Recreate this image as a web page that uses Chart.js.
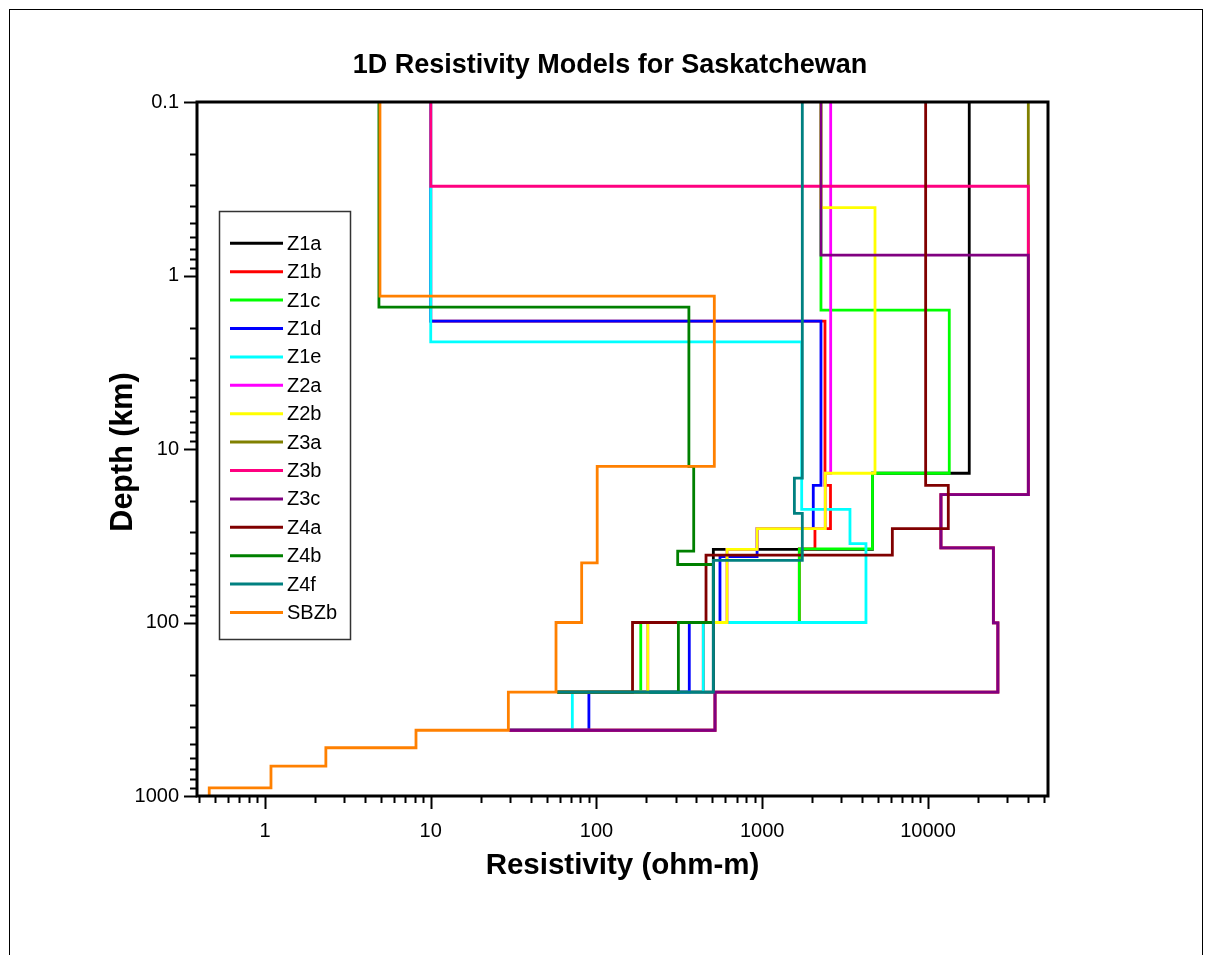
<!DOCTYPE html>
<html>
<head>
<meta charset="utf-8">
<script src="https://cdn.jsdelivr.net/npm/chart.js@4.4.1/dist/chart.umd.min.js"></script>
<style>
  html, body { margin: 0; padding: 0; background: #fff; }
  #grafico { display: block; }
</style>
</head>
<body>
<canvas id="grafico" width="1216" height="955"></canvas>
<script>
// profundidad inicial de todos los modelos (km)
const profTope = 0.1;

// modelos: resistividad de cada capa (ohm-m) y profundidad de la base de cada capa (km)
const z1aRho = [17740, 4620, 507, 58];
const z1aProf = [13.8, 37.9, 252];
const z1bRho = [10, 2391, 2581, 2080, 1674, 441, 58];
const z1bProf = [1.83, 16.2, 28.8, 37.6, 100, 252];
const z1cRho = [2261, 13440, 4624, 1674, 185, 58];
const z1cProf = [1.585, 13.8, 37.6, 100, 252];
const z1dRho = [10, 2261, 2032, 931, 556, 363, 90, 29.8];
const z1dProf = [1.83, 16.2, 28.8, 41.7, 100, 252, 418];
const z1eRho = [10, 1730, 3383, 4225, 441, 71.5, 29.8];
const z1eProf = [2.41, 22.3, 35.1, 100, 252, 418];
const z2aRho = [2588, 2400, 931, 613, 204, 58];
const z2aProf = [13.8, 28.8, 37.9, 100, 252];
const z2bRho = [2261, 4790, 2400, 931, 613, 204, 58];
const z2bProf = [0.406, 13.8, 28.8, 37.9, 100, 252];
const z3aRho = [40300, 11970, 24800, 26400, 519, 29.8];
const z3aProf = [18.3, 37.1, 100.4, 252, 418];
const z3bRho = [10, 40300, 11970, 24800, 26400, 519, 29.8];
const z3bProf = [0.306, 18.3, 37.1, 100.4, 252, 418];
const z3cRho = [2261, 40300, 11970, 24800, 26400, 519, 29.8];
const z3cProf = [0.764, 18.3, 37.1, 100.4, 252, 418];
const z4aRho = [9680, 13260, 6095, 458, 165, 58];
const z4aProf = [16.2, 28.8, 40.9, 100, 252];
const z4bRho = [4.87, 361, 386, 309, 507, 312, 58];
const z4bProf = [1.52, 12.6, 38.8, 46.3, 100, 252];
const z4fRho = [1745, 1563, 1745, 507, 58];
const z4fProf = [14.7, 23.5, 43.9, 252];
const sbzbRho = [4.94, 514, 101, 81.4, 57, 29.4, 8.15, 2.33, 1.087, 0.461, 0.461];
const sbzbProf = [1.315, 12.6, 45.3, 100, 252, 418, 527, 673, 897, 1000];

const nombres = ['Z1a', 'Z1b', 'Z1c', 'Z1d', 'Z1e', 'Z2a', 'Z2b', 'Z3a', 'Z3b', 'Z3c', 'Z4a', 'Z4b', 'Z4f', 'SBZb'];
const colores = ['#000000', '#ff0000', '#00ff00', '#0000ff', '#00ffff', '#ff00ff', '#ffff00',
                 '#808000', '#ff0080', '#800080', '#800000', '#008000', '#008080', '#ff8000'];
const resistividades = [z1aRho, z1bRho, z1cRho, z1dRho, z1eRho, z2aRho, z2bRho, z3aRho, z3bRho, z3cRho, z4aRho, z4bRho, z4fRho, sbzbRho];
const profundidades = [z1aProf, z1bProf, z1cProf, z1dProf, z1eProf, z2aProf, z2bProf, z3aProf, z3bProf, z3cProf, z4aProf, z4bProf, z4fProf, sbzbProf];

const ticksX = [1, 10, 100, 1000, 10000];
const ticksY = [0.1, 1, 10, 100, 1000];

const fuente = 'Liberation Sans, Arial, sans-serif';

// convierte capas en una curva escalonada (resistividad vs profundidad)
const curvaEscalonada = (rho, prof) => {
  const puntos = [{ x: rho[0], y: profTope }];
  prof.forEach((z, k) => {
    puntos.push({ x: rho[k], y: z });
    puntos.push({ x: rho[k + 1], y: z });
  });
  return puntos;
};

const buscarTick = (v, lista) => lista.find(t => Math.abs(v - t) / t < 1e-6);

// marcas de los ejes logaritmicos, mayores y menores, hacia afuera
const dibujarMarcas = (ctx, escala, horizontal, area) => {
  const eIni = Math.floor(Math.log10(escala.min));
  const eFin = Math.ceil(Math.log10(escala.max));
  ctx.save();
  ctx.strokeStyle = '#000';
  ctx.lineWidth = 2;
  for (let e = eIni; e <= eFin; e++) {
    for (let k = 1; k <= 9; k++) {
      const v = k * Math.pow(10, e);
      if (v < escala.min * 0.999 || v > escala.max * 1.001) continue;
      const p = Math.round(escala.getPixelForValue(v)) + 0.5;
      const largo = k === 1 ? 13 : 7;
      ctx.beginPath();
      if (horizontal) {
        ctx.moveTo(p, area.bottom);
        ctx.lineTo(p, area.bottom + largo);
      } else {
        ctx.moveTo(area.left, p);
        ctx.lineTo(area.left - largo, p);
      }
      ctx.stroke();
    }
  }
  ctx.restore();
};

const decoracion = {
  id: 'decoracion',
  beforeDraw(chart) {
    const ctx = chart.ctx;
    ctx.save();
    ctx.fillStyle = '#fff';
    ctx.fillRect(0, 0, chart.width, chart.height);
    // marco exterior de la figura
    ctx.strokeStyle = '#000';
    ctx.lineWidth = 1;
    ctx.strokeRect(9.5, 9.5, 1193, 1100);
    ctx.restore();
  },
  afterDraw(chart) {
    const ctx = chart.ctx;
    const a = chart.chartArea;
    ctx.save();
    // marco del grafico
    ctx.strokeStyle = '#000';
    ctx.lineWidth = 3;
    ctx.strokeRect(a.left, a.top, a.right - a.left, a.bottom - a.top);
    dibujarMarcas(ctx, chart.scales.x, true, a);
    dibujarMarcas(ctx, chart.scales.y, false, a);

    // titulos
    ctx.fillStyle = '#000';
    ctx.textAlign = 'center';
    ctx.textBaseline = 'middle';
    ctx.font = 'bold 27px ' + fuente;
    ctx.fillText('1D Resistivity Models for Saskatchewan', 610, 66);
    ctx.font = 'bold 29.5px ' + fuente;
    ctx.fillText('Resistivity (ohm-m)', (a.left + a.right) / 2, 866);
    ctx.save();
    ctx.translate(124, 452);
    ctx.rotate(-Math.PI / 2);
    ctx.font = 'bold 30.5px ' + fuente;
    ctx.fillText('Depth (km)', 0, 0);
    ctx.restore();

    // leyenda dentro del area del grafico
    ctx.fillStyle = '#fff';
    ctx.fillRect(220, 212, 130, 428);
    ctx.strokeStyle = '#333';
    ctx.lineWidth = 1.5;
    ctx.strokeRect(219.5, 211.5, 131, 428);
    ctx.font = '20px ' + fuente;
    ctx.textAlign = 'left';
    chart.data.datasets.forEach((ds, i) => {
      const y = 243.3 + i * 28.4;
      ctx.strokeStyle = ds.borderColor;
      ctx.lineWidth = 3;
      ctx.beginPath();
      ctx.moveTo(230, y);
      ctx.lineTo(283, y);
      ctx.stroke();
      ctx.fillStyle = '#000';
      ctx.fillText(ds.label, 287, y + 1);
    });
    ctx.restore();
  }
};

const datasets = nombres.map((nombre, i) => ({
  label: nombre,
  data: curvaEscalonada(resistividades[i], profundidades[i]),
  borderColor: colores[i],
  backgroundColor: colores[i],
  borderWidth: 2.8,
  showLine: true,
  fill: false,
  tension: 0,
  pointRadius: 0,
  pointHoverRadius: 0,
  // los ultimos modelos quedan por encima
  order: nombres.length - i
}));

const ctx = document.getElementById('grafico').getContext('2d');

new Chart(ctx, {
  type: 'scatter',
  data: { datasets },
  options: {
    responsive: false,
    animation: false,
    devicePixelRatio: 1,
    layout: { padding: { left: 0, top: 102, right: 168, bottom: 0 } },
    plugins: {
      legend: { display: false },
      title: { display: false },
      tooltip: { enabled: false }
    },
    scales: {
      x: {
        type: 'logarithmic',
        min: 0.389,
        max: 52970,
        grid: { display: false },
        border: { display: false },
        ticks: {
          autoSkip: false,
          maxRotation: 0,
          padding: 15,
          color: '#000',
          font: { family: fuente, size: 20 },
          callback: (v) => {
            const t = buscarTick(v, ticksX);
            return t === undefined ? '' : String(t);
          }
        },
        afterFit: (s) => { s.height = 159; }
      },
      y: {
        type: 'logarithmic',
        reverse: true,
        min: 0.1,
        max: 1000,
        grid: { display: false },
        border: { display: false },
        ticks: {
          autoSkip: false,
          padding: 10,
          color: '#000',
          font: { family: fuente, size: 20 },
          callback: (v) => {
            const t = buscarTick(v, ticksY);
            return t === undefined ? '' : String(t);
          }
        },
        afterFit: (s) => { s.width = 197; }
      }
    }
  },
  plugins: [decoracion]
});
</script>
</body>
</html>
